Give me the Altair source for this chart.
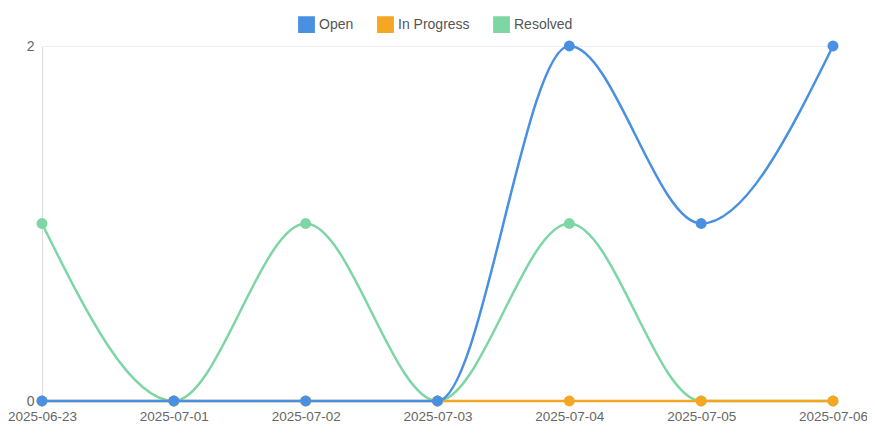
import altair as alt
import pandas as pd

dates = ["2025-06-23", "2025-07-01", "2025-07-02", "2025-07-03", "2025-07-04", "2025-07-05", "2025-07-06"]
open_counts = [0, 0, 0, 0, 2, 1, 2]
in_progress_counts = [0, 0, 0, 0, 0, 0, 0]
resolved_counts = [1, 0, 1, 0, 1, 0, 0]

series = ["Open", "In Progress", "Resolved"]
colors = ["#4a90e2", "#f5a623", "#7ed6a5"]

rows = []
for name, vals in zip(series, [open_counts, in_progress_counts, resolved_counts]):
    for d, v in zip(dates, vals):
        rows.append({"date": d, "count": v, "status": name})
df = pd.DataFrame(rows)

scale = alt.Scale(domain=series, range=colors)
color = alt.Color(
    "status:N",
    scale=scale,
    legend=alt.Legend(
        title=None, orient="none", direction="horizontal", legendX=256, legendY=-30,
        symbolType="square", symbolFillColor="white", symbolStrokeWidth=2, symbolSize=220,
        labelFont="Liberation Sans", labelFontSize=14, labelColor="#555", columnPadding=20,
    ),
)
color_pts = alt.Color("status:N", scale=scale, legend=None)
x = alt.X("date:O", sort=dates, scale=alt.Scale(padding=0),
          axis=alt.Axis(title=None, labelAngle=0, grid=False, ticks=False, domain=False,
                        labelFont="Liberation Sans", labelFontSize=13.5, labelColor="#666", labelPadding=8))
y = alt.Y("count:Q", scale=alt.Scale(domain=[0, 2]),
          axis=alt.Axis(title=None, values=[0, 1, 2], format="d", ticks=False, domainColor="#ddd",
                        gridColor="#eee", labelFont="Liberation Sans", labelFontSize=14,
                        labelColor="#666", labelPadding=8))

base = alt.Chart(df)
layers = []
for name in ["Resolved", "In Progress", "Open"]:
    b = base.transform_filter(alt.datum.status == name)
    layers.append(b.mark_line(interpolate="monotone", strokeWidth=2.5).encode(x=x, y=y, color=color))
    layers.append(b.mark_circle(size=120, opacity=1).encode(x=x, y=y, color=color_pts))

chart = alt.layer(*layers).properties(
    width=791, height=355,
    padding={"left": 34, "top": 38, "right": 34, "bottom": 28},
    autosize=alt.AutoSizeParams(type="none"),
).configure_view(stroke=None)

chart.save("out.html", embed_options={"renderer": "svg", "actions": False})
